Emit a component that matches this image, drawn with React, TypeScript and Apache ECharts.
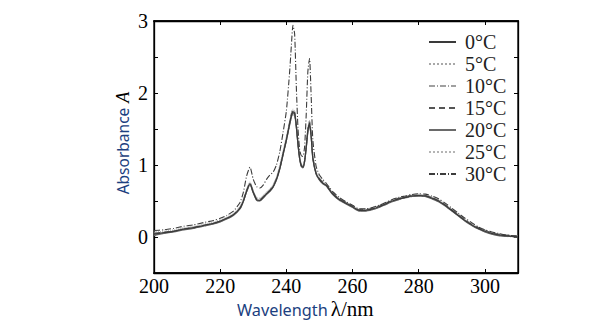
import React, { useEffect, useRef } from "react";
import * as echarts from "echarts";

// Wavelength sampling (nm)
const wavelengths = [
  200, 203, 206, 209, 212, 215, 218,
  220, 222, 224, 226,
  227, 228, 229, 230, 231, 232, 233, 234, 235, 236, 237, 238, 239, 240, 241,
  241.5, 242, 242.5, 243, 243.5, 244, 244.5, 245, 245.5, 246, 246.5, 247, 247.5, 248,
  249, 250, 251, 252, 253, 254,
  256, 258, 260, 262, 264, 266, 268, 270, 272, 274, 276, 278, 280, 282, 284, 286, 288, 290, 292, 294, 296, 298, 300, 302, 304, 306, 308, 310,
];

const a0 = [
  0.04, 0.06, 0.08, 0.11, 0.13, 0.16, 0.19,
  0.22, 0.26, 0.31, 0.40,
  0.50, 0.64, 0.74, 0.62, 0.52, 0.51, 0.55, 0.60, 0.64, 0.70, 0.80, 0.95, 1.15, 1.35, 1.58,
  1.68, 1.74, 1.72, 1.55, 1.30, 1.10, 0.99, 0.97, 1.05, 1.25, 1.48, 1.58, 1.40, 1.10,
  0.88, 0.80, 0.75, 0.72, 0.66, 0.60,
  0.52, 0.47, 0.42, 0.37, 0.37, 0.39, 0.42, 0.46, 0.50, 0.53, 0.55, 0.57, 0.575, 0.57, 0.54, 0.50, 0.44, 0.37, 0.30, 0.23, 0.17, 0.12, 0.08, 0.05, 0.03, 0.02, 0.01, 0.00,
];
const a5 = [
  0.06, 0.07, 0.09, 0.12, 0.14, 0.17, 0.20,
  0.23, 0.27, 0.32, 0.42,
  0.52, 0.66, 0.76, 0.64, 0.54, 0.53, 0.57, 0.62, 0.66, 0.72, 0.82, 0.98, 1.18, 1.38, 1.60,
  1.70, 1.76, 1.73, 1.56, 1.32, 1.12, 1.01, 0.99, 1.07, 1.27, 1.50, 1.60, 1.42, 1.12,
  0.90, 0.82, 0.77, 0.73, 0.67, 0.61,
  0.53, 0.48, 0.43, 0.38, 0.38, 0.40, 0.43, 0.47, 0.51, 0.54, 0.56, 0.58, 0.585, 0.58, 0.55, 0.51, 0.45, 0.38, 0.31, 0.24, 0.18, 0.13, 0.09, 0.06, 0.04, 0.03, 0.02, 0.01,
];
const a10 = [
  0.03, 0.05, 0.08, 0.10, 0.12, 0.15, 0.18,
  0.21, 0.25, 0.30, 0.39,
  0.49, 0.62, 0.72, 0.61, 0.51, 0.50, 0.54, 0.59, 0.63, 0.69, 0.79, 0.94, 1.13, 1.33, 1.55,
  1.65, 1.70, 1.68, 1.52, 1.28, 1.08, 0.98, 0.96, 1.03, 1.22, 1.45, 1.55, 1.38, 1.08,
  0.87, 0.79, 0.74, 0.71, 0.65, 0.59,
  0.51, 0.46, 0.41, 0.36, 0.36, 0.38, 0.41, 0.45, 0.49, 0.52, 0.54, 0.56, 0.565, 0.56, 0.53, 0.49, 0.43, 0.36, 0.29, 0.22, 0.16, 0.11, 0.07, 0.04, 0.02, 0.01, 0.00, 0.00,
];
const a15 = [
  0.05, 0.07, 0.08, 0.11, 0.14, 0.16, 0.19,
  0.22, 0.26, 0.31, 0.41,
  0.51, 0.65, 0.75, 0.63, 0.53, 0.52, 0.56, 0.61, 0.65, 0.71, 0.81, 0.96, 1.16, 1.36, 1.60,
  1.71, 1.77, 1.74, 1.57, 1.31, 1.11, 1.00, 0.98, 1.06, 1.26, 1.50, 1.61, 1.42, 1.11,
  0.89, 0.81, 0.76, 0.73, 0.67, 0.61,
  0.53, 0.48, 0.43, 0.38, 0.38, 0.40, 0.43, 0.47, 0.51, 0.54, 0.56, 0.58, 0.58, 0.575, 0.55, 0.51, 0.45, 0.38, 0.31, 0.24, 0.18, 0.13, 0.09, 0.06, 0.04, 0.03, 0.02, 0.01,
];
const a20 = [
  0.02, 0.05, 0.07, 0.10, 0.12, 0.15, 0.18,
  0.21, 0.25, 0.30, 0.39,
  0.49, 0.63, 0.73, 0.61, 0.51, 0.50, 0.54, 0.59, 0.63, 0.69, 0.79, 0.94, 1.14, 1.34, 1.56,
  1.66, 1.72, 1.70, 1.53, 1.29, 1.09, 0.98, 0.96, 1.04, 1.23, 1.46, 1.56, 1.39, 1.09,
  0.87, 0.79, 0.74, 0.71, 0.65, 0.59,
  0.51, 0.46, 0.41, 0.36, 0.36, 0.38, 0.41, 0.45, 0.49, 0.52, 0.55, 0.565, 0.57, 0.565, 0.53, 0.49, 0.43, 0.36, 0.29, 0.22, 0.16, 0.11, 0.07, 0.04, 0.02, 0.01, 0.01, 0.00,
];
const a25 = [
  0.07, 0.08, 0.10, 0.13, 0.15, 0.18, 0.21,
  0.24, 0.28, 0.33, 0.43,
  0.53, 0.67, 0.77, 0.65, 0.55, 0.54, 0.58, 0.63, 0.67, 0.73, 0.84, 1.00, 1.20, 1.40, 1.62,
  1.72, 1.78, 1.75, 1.58, 1.33, 1.13, 1.02, 1.00, 1.08, 1.28, 1.52, 1.62, 1.44, 1.13,
  0.91, 0.83, 0.78, 0.74, 0.68, 0.62,
  0.54, 0.49, 0.44, 0.39, 0.39, 0.41, 0.44, 0.48, 0.52, 0.55, 0.57, 0.585, 0.59, 0.585, 0.56, 0.52, 0.46, 0.39, 0.32, 0.25, 0.19, 0.14, 0.10, 0.07, 0.05, 0.03, 0.02, 0.01,
];
const a30 = [
  0.09, 0.10, 0.12, 0.15, 0.17, 0.20, 0.23,
  0.26, 0.30, 0.36, 0.48,
  0.62, 0.85, 0.97, 0.80, 0.70, 0.68, 0.72, 0.80, 0.86, 0.90, 1.00, 1.18, 1.45, 1.75, 2.30,
  2.65, 2.94, 2.82, 2.10, 1.52, 1.22, 1.13, 1.12, 1.25, 1.70, 2.30, 2.48, 1.95, 1.35,
  0.98, 0.86, 0.80, 0.75, 0.69, 0.63,
  0.55, 0.49, 0.44, 0.39, 0.39, 0.41, 0.44, 0.48, 0.52, 0.55, 0.57, 0.59, 0.60, 0.595, 0.57, 0.53, 0.47, 0.40, 0.33, 0.26, 0.20, 0.14, 0.10, 0.07, 0.05, 0.03, 0.02, 0.01,
];

const seriesNames = ["0°C", "5°C", "10°C", "15°C", "20°C", "25°C", "30°C"];
const seriesValues = [a0, a5, a10, a15, a20, a25, a30];
const seriesColors = ["#3a3a3a", "#a8a8a8", "#a0a0a0", "#555555", "#6a6a6a", "#b5b5b5", "#3c3c3c"];
const seriesDash: any[] = ["solid", "dotted", [6, 2, 1, 2], [6, 4], "solid", "dotted", [6, 2, 1, 2]];
const seriesWidth = [1.3, 1, 1, 1.1, 1.2, 1, 1.1];

const xTicks = { min: 200, max: 310, interval: 20 };
const yTicks = { min: -0.5, max: 3, interval: 0.5 };

const GRID = { left: 154, top: 21, width: 364, height: 252 };

export default function App() {
  const ref = useRef<HTMLDivElement>(null);
  useEffect(() => {
    if (!ref.current) return;
    const chart = echarts.init(ref.current, null, { renderer: "svg" });
    const mkLine = () => ({ show: true, onZero: false, lineStyle: { color: "#000", width: 1.3 } });
    const mkTick = () => ({ show: true, inside: true, length: 4, lineStyle: { color: "#000", width: 1 } });
    const serif = "Liberation Serif";
    const sans = "Noto Sans";
    const L = GRID.left, T = GRID.top, W = GRID.width, B = GRID.top + GRID.height;
    chart.setOption({
      animation: false,
      backgroundColor: "#fff",
      grid: { ...GRID, show: true, borderColor: "#000", borderWidth: 1.3 },
      legend: {
        orient: "vertical",
        left: 423,
        top: 27,
        itemWidth: 27,
        itemHeight: 14,
        itemGap: 2,
        data: seriesNames,
        itemStyle: { opacity: 0 },
        textStyle: { fontFamily: serif, fontSize: 20, color: "#222", lineHeight: 20, padding: [0, 0, 0, 4] },
      },
      xAxis: [
        {
          type: "value",
          position: "bottom",
          min: xTicks.min,
          max: xTicks.max,
          interval: xTicks.interval,
          axisLine: mkLine(),
          axisTick: mkTick(),
          splitLine: { show: false },
          axisLabel: {
            fontFamily: serif,
            fontSize: 20,
            color: "#000",
            margin: 3,
            formatter: (v: number) => (v === 310 ? "" : String(v)),
          },
        },
        {
          type: "value",
          position: "top",
          min: xTicks.min,
          max: xTicks.max,
          interval: xTicks.interval,
          axisLine: mkLine(),
          axisTick: mkTick(),
          splitLine: { show: false },
          axisLabel: { show: false },
        },
      ],
      yAxis: [
        {
          type: "value",
          position: "left",
          min: yTicks.min,
          max: yTicks.max,
          interval: yTicks.interval,
          axisLine: mkLine(),
          axisTick: mkTick(),
          splitLine: { show: false },
          axisLabel: {
            fontFamily: serif,
            fontSize: 20,
            color: "#000",
            margin: 6,
            formatter: (v: number) => (Number.isInteger(v) ? String(v) : ""),
          },
        },
        {
          type: "value",
          position: "right",
          min: yTicks.min,
          max: yTicks.max,
          interval: yTicks.interval,
          axisLine: mkLine(),
          axisTick: mkTick(),
          splitLine: { show: false },
          axisLabel: { show: false },
        },
      ],
      series: seriesNames.map((name, k) => ({
        name,
        type: "line",
        xAxisIndex: 0,
        yAxisIndex: 0,
        symbol: "none",
        smooth: 0.2,
        color: seriesColors[k],
        lineStyle: { color: seriesColors[k], width: seriesWidth[k], type: seriesDash[k] },
        data: wavelengths.map((w, i) => [w, seriesValues[k][i]]),
        z: k === 6 ? 3 : k === 0 ? 4 : 2,
      })),
      graphic: [
        { type: "rect", z: 100, silent: true, shape: { x: L - 0.7, y: T - 0.7, width: W + 1.4, height: 1.5 }, style: { fill: "#000" } },
        { type: "rect", z: 100, silent: true, shape: { x: L - 0.7, y: B - 0.7, width: W + 1.4, height: 1.5 }, style: { fill: "#000" } },
        {
          type: "text",
          x: 122.5,
          y: 143,
          rotation: Math.PI / 2,
          style: {
            text: "{a|Absorbance}{b|A}",
            align: "center",
            verticalAlign: "middle",
            rich: {
              a: { fontFamily: sans, fontSize: 15.5, fill: "#1c3f80" },
              b: { fontFamily: serif, fontStyle: "italic", fontSize: 18, fill: "#000", padding: [0, 0, 0, 5] },
            },
          },
        },
        {
          type: "text",
          x: 237,
          y: 310,
          style: {
            text: "{a|Wavelength}{b|λ/nm}",
            align: "left",
            verticalAlign: "middle",
            rich: {
              a: { fontFamily: sans, fontSize: 16.3, fill: "#1c3f80" },
              b: { fontFamily: serif, fontSize: 21, fill: "#000", padding: [0, 0, 2, 3] },
            },
          },
        },
      ],
    });
    return () => chart.dispose();
  }, []);
  return <div ref={ref} style={{ position: "fixed", left: 0, top: 0, width: 599, height: 332 }} />;
}
